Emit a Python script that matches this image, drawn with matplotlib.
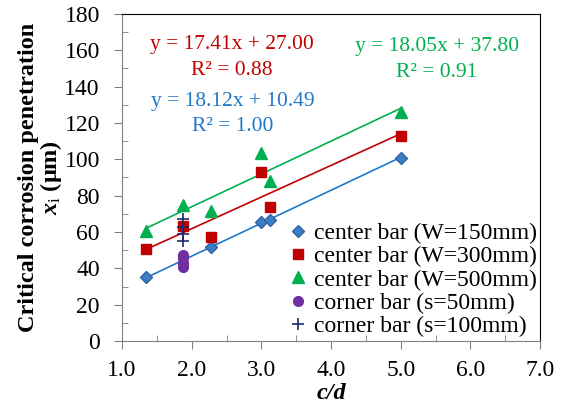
import numpy as np
import matplotlib
matplotlib.use("Agg")
import matplotlib.pyplot as plt
from matplotlib.ticker import MultipleLocator, FormatStrFormatter

plt.rcParams['font.family'] = ['Liberation Serif', 'DejaVu Serif']
plt.rcParams['mathtext.fontset'] = 'custom'
plt.rcParams['mathtext.rm'] = 'Liberation Serif'
plt.rcParams['mathtext.it'] = 'Liberation Serif:italic'
plt.rcParams['mathtext.bf'] = 'Liberation Serif:bold'
plt.rcParams['mathtext.bfit'] = 'Liberation Serif:bold:italic'

# data
cd_center = [1.35, 1.87, 2.27, 3.0, 3.12, 5.0]
xi_w150 = [35.0, None, 51.8, 65.3, 66.6, 100.9]
xi_w300 = [50.8, 63.5, 57.3, 92.8, 73.8, 113.0]
xi_w500 = [60.5, 75.0, 71.4, 103.6, 88.0, 125.8]
cd_corner = 1.87
xi_s50 = [47.5, 45.5, 43.0, 41.0]
xi_s100 = [67.0, 63.0, 59.0, 55.0]

slopes = [18.12, 17.41, 18.05]
intercepts = [10.49, 27.00, 37.80]
r2 = [1.00, 0.88, 0.91]

labels = ['center bar (W=150mm)', 'center bar (W=300mm)', 'center bar (W=500mm)',
          'corner bar (s=50mm)', 'corner bar (s=100mm)']

fig = plt.figure(figsize=(5.65, 4.07), dpi=100)
ax = fig.add_axes([0.216, 0.162, 0.740, 0.804])

line_cols = ['#1F78C8', '#C00000', '#00B050']
series = [xi_w150, xi_w300, xi_w500]
mk = [dict(marker='D', ms=6.5, mfc='#3C7DC4', mec='#2F65A8'),
      dict(marker='s', ms=7, mfc='#C00000', mec='#C00000'),
      dict(marker='^', ms=8, mfc='#00B050', mec='#00B050')]

# trend lines from the fitted equations
for ys, c, a, b in zip(series, line_cols, slopes, intercepts):
    xs = [x for x, y in zip(cd_center, ys) if y is not None]
    xx = np.array([min(xs), max(xs)])
    ax.plot(xx, a * xx + b, color=c, lw=1.2, zorder=2)

handles = []
for ys, m, lab in zip(series, mk, labels[:3]):
    xs = [x for x, y in zip(cd_center, ys) if y is not None]
    yv = [y for y in ys if y is not None]
    h, = ax.plot(xs, yv, ls='none', label=lab, zorder=3, **m)
    handles.append(h)
h, = ax.plot([cd_corner] * len(xi_s50), xi_s50, ls='none', marker='o', ms=7,
             mfc='#7030A0', mec='#7030A0', label=labels[3], zorder=3)
handles.append(h)
h, = ax.plot([cd_corner] * len(xi_s100), xi_s100, ls='none', marker='+', ms=9,
             mew=1.2, color='#1F2A6E', label=labels[4], zorder=4)
handles.append(h)

# trendline equations
txt_pos = [(2.59, 132, 118), (2.58, 163, 149), (5.52, 162, 147.5)]
for (tx, ty1, ty2), c, a, b, r in zip(txt_pos, line_cols, slopes, intercepts, r2):
    ax.text(tx, ty1, f'y = {a:.2f}x + {b:.2f}', color=c, ha='center', va='center', fontsize=15.5)
    ax.text(tx, ty2, f'R² = {r:.2f}', color=c, ha='center', va='center', fontsize=15.5)

ax.set_xlim(1.0, 7.0)
ax.set_ylim(0, 180)
ax.xaxis.set_major_locator(MultipleLocator(1.0))
ax.xaxis.set_minor_locator(MultipleLocator(0.5))
ax.yaxis.set_major_locator(MultipleLocator(20))
ax.yaxis.set_minor_locator(MultipleLocator(10))
ax.xaxis.set_major_formatter(FormatStrFormatter('%.1f'))

ax.tick_params(which='major', direction='out', length=6, color='#808080', labelsize=17)
ax.tick_params(axis='x', which='major', pad=7.5)
ax.tick_params(axis='y', which='major', pad=10)
ax.tick_params(which='minor', direction='in', length=4, color='#808080')
for s in ['left', 'bottom']:
    ax.spines[s].set_color('#808080')
for s in ['top', 'right']:
    ax.spines[s].set_color('#000000')

ax.set_xlabel('c/d', fontsize=17.5, fontweight='bold', fontstyle='italic', labelpad=1.5)
ax.set_ylabel('Critical corrosion penetration\n$\\mathbfit{x}_\\mathrm{i}$ (μm)',
              fontsize=17.5, fontweight='bold', labelpad=0, linespacing=0.95)

ax.legend(handles=handles, loc='lower right', bbox_to_anchor=(1.0, 0.0), frameon=False,
          fontsize=17, handlelength=0.5, handletextpad=0.4, labelspacing=0.08,
          borderaxespad=0.05, borderpad=0.1)

fig.savefig('out.png', dpi=100)
